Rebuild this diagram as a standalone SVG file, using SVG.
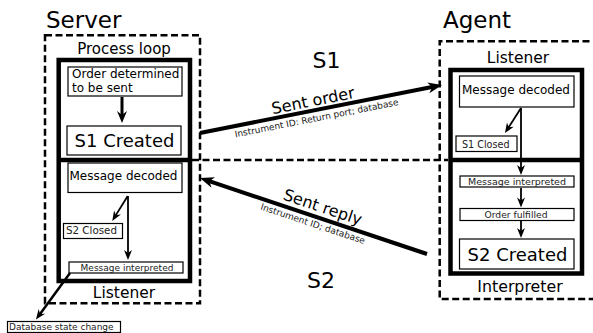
<svg xmlns="http://www.w3.org/2000/svg" width="593" height="333" viewBox="0 0 593 333">
<style>
text{font-family:"DejaVu Sans","Liberation Sans",sans-serif;fill:#000}
.dash{fill:none;stroke:#000;stroke-width:2.5;stroke-dasharray:7,3.5}
.thick{fill:none;stroke:#000;stroke-width:4.5}
.box{fill:#fff;stroke:#000;stroke-width:1.2}
.mid{text-anchor:middle}
.conn{fill:none;stroke:#000}
.sm{fill:#222}
</style>
<defs>
<marker id="big" markerUnits="userSpaceOnUse" viewBox="-15 -7 17 14" refX="-9" refY="0" markerWidth="17" markerHeight="14" orient="auto"><path d="M0,0 L-14,-5.5 L-10,0 L-14,5.5 Z" fill="#000"/></marker>
<marker id="med" markerUnits="userSpaceOnUse" viewBox="-13 -6 15 12" refX="-7" refY="0" markerWidth="15" markerHeight="12" orient="auto"><path d="M0,0 L-12,-5 L-8,0 L-12,5 Z" fill="#000"/></marker>
<marker id="small" markerUnits="userSpaceOnUse" viewBox="-11 -5 13 10" refX="-6" refY="0" markerWidth="13" markerHeight="10" orient="auto"><path d="M0,0 L-10,-4 L-7,0 L-10,4 Z" fill="#000"/></marker>
</defs>

<g id="server">
<text x="46" y="28" font-size="23">Server</text>
<rect class="dash" x="45" y="35.3" width="155" height="268"/>
<text class="mid" x="124" y="54" font-size="15">Process loop</text>
<rect class="thick" x="58.7" y="60" width="131.3" height="221"/>
<line x1="58.7" y1="160" x2="190" y2="160" stroke="#000" stroke-width="4.5"/>
<text class="mid" x="124" y="298" font-size="15.5">Listener</text>
</g>

<g id="agent">
<text x="443" y="28" font-size="23">Agent</text>
<path class="dash" d="M600,41.3 H439.7 V299 H600"/>
<text class="mid" x="518" y="63" font-size="15.5">Listener</text>
<rect class="thick" x="450.5" y="70" width="131.5" height="203.5"/>
<line x1="450.5" y1="160" x2="582" y2="160" stroke="#000" stroke-width="4.5"/>
<text class="mid" x="520" y="292" font-size="15.8">Interpreter</text>
</g>

<g id="order-determined">
<rect class="box" x="68" y="67" width="114" height="29"/>
<text x="72" y="77.5" font-size="12">Order determined</text>
<text x="72" y="91.5" font-size="12">to be sent</text>
</g>
<g id="s1-created">
<rect class="box" x="67" y="126" width="114" height="29"/>
<text class="mid" x="124.5" y="146.5" font-size="18">S1 Created</text>
</g>
<g id="server-message-decoded">
<rect class="box" x="68" y="163" width="114" height="29.5"/>
<text class="mid" x="123.5" y="179.5" font-size="12">Message decoded</text>
</g>
<g id="s2-closed">
<rect class="box" x="63.5" y="223.5" width="59" height="15"/>
<text class="sm" x="66" y="234" font-size="10.3">S2 Closed</text>
</g>
<g id="server-message-interpreted">
<rect class="box" x="69" y="262" width="114" height="11"/>
<text class="mid sm" x="127" y="271" font-size="9">Message interpreted</text>
</g>
<g id="database-state-change">
<rect class="box" x="7.5" y="321.5" width="113" height="11"/>
<text class="sm" x="9" y="329.5" font-size="9">Database state change</text>
</g>

<g id="agent-message-decoded">
<rect class="box" x="459.5" y="76" width="114.5" height="31"/>
<text class="mid" x="516" y="94" font-size="12">Message decoded</text>
</g>
<g id="s1-closed">
<rect class="box" x="456" y="136" width="61" height="15.5"/>
<text class="sm" x="462" y="147.5" font-size="9.6">S1 Closed</text>
</g>
<g id="agent-message-interpreted">
<rect class="box" x="460" y="176" width="114" height="11"/>
<text class="mid sm" x="517" y="185" font-size="9.5">Message interpreted</text>
</g>
<g id="order-fulfilled">
<rect class="box" x="460" y="208.5" width="114" height="12"/>
<text class="mid sm" x="516" y="217.5" font-size="9.2">Order fulfilled</text>
</g>
<g id="s2-created">
<rect class="box" x="459.5" y="239" width="114.5" height="30"/>
<text class="mid" x="517.5" y="260.5" font-size="18">S2 Created</text>
</g>

<g id="labels">
<text class="mid" x="326.5" y="68" font-size="22">S1</text>
<text class="mid" x="321" y="288" font-size="22">S2</text>
</g>

<g id="connectors">
<line class="dash" x1="192" y1="160" x2="448" y2="160"/>
<line class="conn" x1="122" y1="97" x2="122" y2="116" stroke-width="3" marker-end="url(#med)"/>
<line class="conn" x1="127.7" y1="196" x2="115.4" y2="215.9" stroke-width="1.8" marker-end="url(#small)"/>
<line class="conn" x1="128" y1="196" x2="128" y2="254" stroke-width="1.8" marker-end="url(#small)"/>
<line class="conn" x1="70" y1="273" x2="39.5" y2="314.7" stroke-width="2.5" marker-end="url(#small)"/>
<line class="conn" x1="521" y1="108" x2="508.2" y2="128" stroke-width="1.8" marker-end="url(#small)"/>
<line class="conn" x1="521" y1="108" x2="521" y2="169" stroke-width="1.8" marker-end="url(#small)"/>
<line class="conn" x1="521" y1="188" x2="521" y2="201.5" stroke-width="1.8" marker-end="url(#small)"/>
<line class="conn" x1="521" y1="221" x2="521" y2="232" stroke-width="1.8" marker-end="url(#small)"/>
<g id="sent-order">
<line class="conn" x1="200" y1="133" x2="433.2" y2="86.8" stroke-width="4" marker-end="url(#big)"/>
<g transform="translate(315,110.4) rotate(-11.2)">
<text class="mid" x="0" y="-4.5" font-size="16">Sent order</text>
<text class="mid sm" x="0" y="11" font-size="9">Instrument ID: Return port; database</text>
</g>
</g>
<g id="sent-reply">
<line class="conn" x1="427" y1="254" x2="208.5" y2="180.9" stroke-width="4" marker-end="url(#big)"/>
<g transform="translate(319,218) rotate(18.5)">
<text class="mid" x="0" y="-6" font-size="16">Sent reply</text>
<text class="mid sm" x="-4" y="10.5" font-size="9">Instrument ID; database</text>
</g>
</g>
</g>
</svg>
